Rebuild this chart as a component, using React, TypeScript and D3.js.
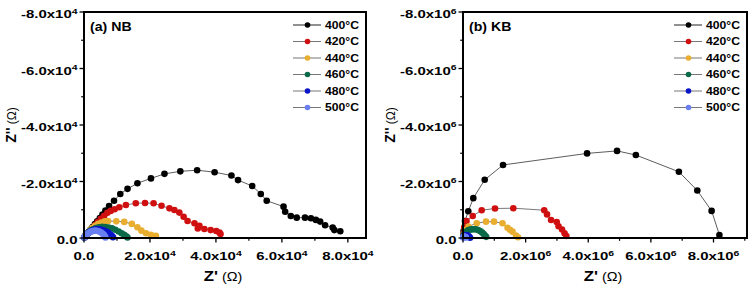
import React from "react";
import * as d3 from "d3";

// ---------- data ----------
const temps = ["400°C", "420°C", "440°C", "460°C", "480°C", "500°C"];
const colors = ["#000000", "#d01010", "#e9ae2f", "#0a6a48", "#0a14c8", "#6a80f2"];

// NB panel (Ω)
const nb400Re = [200, 500, 900, 1400, 2000, 2600, 3300, 4000, 4800, 5600, 6500, 7600, 9100, 11000, 13200, 16200, 20300, 24400, 29200, 34300, 39600, 44700, 46700, 51000, 53600, 55400, 60500, 61000, 62700, 64500, 67000, 68800, 70300, 71600, 73100, 75400, 75900, 77700];
const nb400Im = [-300, -750, -1350, -2100, -3000, -3900, -4900, -5900, -7100, -8300, -9700, -11300, -13200, -15600, -17400, -19400, -21100, -22700, -23600, -24000, -23300, -22100, -20500, -18400, -15600, -13200, -11100, -9300, -7800, -7200, -7200, -7000, -6400, -5800, -4500, -3700, -2800, -2400];
const nb420Re = [200, 500, 900, 1400, 2000, 2700, 3400, 4200, 5100, 6100, 7100, 8100, 9300, 10700, 12700, 15700, 18500, 21100, 23500, 25900, 27400, 28900, 30200, 31400, 33500, 35000, 34500, 36500, 38400, 40100, 41100, 41400];
const nb420Im = [-270, -680, -1220, -1900, -2700, -3650, -4600, -5650, -6800, -7900, -8900, -9600, -10200, -10900, -11700, -12300, -12400, -12300, -11400, -10500, -9900, -9000, -7500, -6000, -5200, -4300, -3400, -3200, -2800, -2500, -1900, -1400];
const nb440Re = [150, 400, 800, 1300, 1900, 2600, 3400, 4300, 5300, 6300, 7300, 9800, 12200, 14500, 16200, 17400, 18800, 20300, 21800];
const nb440Im = [-250, -650, -1250, -1950, -2800, -3600, -4300, -5000, -5500, -5900, -6000, -5900, -5700, -5000, -3800, -2600, -1700, -1100, -800];
const nb460Re = [100, 300, 600, 1000, 1500, 2100, 2800, 3600, 4500, 5500, 6500, 7500, 8500, 9500, 10500, 11400, 12200, 12800, 13200];
const nb460Im = [-200, -600, -1100, -1600, -2200, -2700, -3100, -3500, -3800, -3950, -3900, -3700, -3400, -2900, -2300, -1700, -1100, -600, -200];
const nb480Re = [100, 300, 600, 1000, 1500, 2100, 2800, 3500, 4300, 5100, 5900, 6700, 7400, 8000, 8500, 8800];
const nb480Im = [-200, -550, -1000, -1500, -2000, -2450, -2800, -3050, -3100, -3000, -2750, -2300, -1800, -1200, -700, -250];
const nb500Re = [100, 300, 600, 1000, 1500, 2100, 2700, 3300, 3900, 4500, 5100, 5600, 6000, 6300, 6500];
const nb500Im = [-200, -550, -950, -1400, -1850, -2250, -2500, -2600, -2550, -2350, -2000, -1600, -1100, -600, -200];

// KB panel (Ω)
const kb400Re = [20000, 64000, 169000, 329000, 693000, 1278000, 3962000, 4920000, 5521000, 6895000, 7483000, 7940000, 8189000];
const kb400Im = [-250000, -604000, -948000, -1410000, -2060000, -2586000, -2994000, -3083000, -2937000, -2344000, -1680000, -959000, -107000];
const kb420Re = [15000, 40000, 112000, 310000, 597000, 1022000, 1607000, 2594000, 2684000, 2812000, 2994000, 3051000, 3163000, 3243000, 3300000];
const kb420Im = [-150000, -380000, -604000, -781000, -984000, -1044000, -1055000, -984000, -835000, -639000, -568000, -416000, -302000, -167000, -71000];
const kb440Re = [20000, 64000, 176000, 438000, 735000, 990000, 1262000, 1422000, 1500000, 1582000, 1693000, 1757000];
const kb440Im = [-120000, -284000, -408000, -522000, -579000, -579000, -522000, -362000, -290000, -224000, -89000, -25000];
const kb460Re = [10000, 30000, 100000, 150000, 200000, 260000, 320000, 380000, 440000, 500000, 560000, 610000, 660000, 700000, 740000];
const kb460Im = [-50000, -120000, -220000, -260000, -290000, -305000, -310000, -308000, -300000, -275000, -240000, -195000, -140000, -90000, -40000];
const kb480Re = [10000, 30000, 50000, 75000, 100000, 125000, 150000, 175000, 200000, 225000];
const kb480Im = [-40000, -65000, -80000, -92000, -95000, -92000, -80000, -62000, -40000, -10000];
const kb500Re = [5000, 15000, 30000, 45000, 60000, 75000, 90000];
const kb500Im = [-20000, -32000, -40000, -42000, -40000, -32000, -20000];

const nbTicksX = [0, 20000, 40000, 60000, 80000];
const nbTicksY = [0, -20000, -40000, -60000, -80000];
const kbTicksX = [0, 2000000, 4000000, 6000000, 8000000];
const kbTicksY = [0, -2000000, -4000000, -6000000, -8000000];

const FONT = "'Liberation Sans', Arial, Helvetica, sans-serif";

function zip(re: number[], im: number[]) {
  return re.map((r, i) => ({ re: r, im: im[i] }));
}

function fmt(v: number, exp: number): [string, string | null] {
  if (v === 0) return ["0.0", null];
  return [(v / Math.pow(10, exp)).toFixed(1) + "x10", String(exp)];
}

type PanelProps = {
  x0: number; x1: number; yTop: number; yBot: number;
  xMax: number; yMin: number; exp: number; label: string;
  ticksX: number[]; ticksY: number[];
  series: { re: number; im: number }[][];
};

function Panel(p: PanelProps) {
  const x = d3.scaleLinear().domain([0, p.xMax]).range([p.x0, p.x1]);
  const y = d3.scaleLinear().domain([0, p.yMin]).range([p.yBot, p.yTop]);
  const step = p.ticksX[1] - p.ticksX[0];
  const minorX = d3.range(step / 2, p.xMax, step).filter((v) => !p.ticksX.includes(v));
  const stepY = p.ticksY[1] - p.ticksY[0];
  const minorY = d3.range(stepY / 2, p.yMin, stepY);
  const line = d3.line<{ re: number; im: number }>().x((d) => x(d.re)).y((d) => y(d.im));
  const cx = (p.x0 + p.x1) / 2;
  const sx = 1.3;
  return (
    <g fontFamily={FONT}>
      {/* series */}
      {p.series.map((s, i) => (
        <g key={i}>
          <path d={line(s) || ""} fill="none" stroke={i === 0 ? "#333" : "#555"} strokeWidth={0.8} />
          {s.map((d, j) => (
            <circle key={j} cx={x(d.re)} cy={y(d.im)} r={3.3} fill={colors[i]} />
          ))}
        </g>
      ))}
      {/* frame */}
      <rect x={p.x0} y={p.yTop} width={p.x1 - p.x0} height={p.yBot - p.yTop} fill="none" stroke="#000" strokeWidth={2} />
      {/* x ticks */}
      {p.ticksX.map((v) => (
        <line key={"xt" + v} x1={x(v)} x2={x(v)} y1={p.yBot} y2={p.yBot + 4.5} stroke="#000" strokeWidth={1.3} />
      ))}
      {minorX.map((v) => (
        <line key={"xm" + v} x1={x(v)} x2={x(v)} y1={p.yBot} y2={p.yBot + 2.8} stroke="#000" strokeWidth={1.2} />
      ))}
      {p.ticksX.map((v) => {
        const [m, s] = fmt(v, p.exp);
        return (
          <text key={"xl" + v} transform={`translate(${x(v)},${p.yBot + 22}) scale(${sx},1)`} textAnchor="middle" fontSize={11.5} fontWeight="bold">
            {m}
            {s && <tspan fontSize={8} dy={-4.5}>{s}</tspan>}
          </text>
        );
      })}
      {/* y ticks */}
      {p.ticksY.map((v) => (
        <line key={"yt" + v} x1={p.x0 - 4.5} x2={p.x0} y1={y(v)} y2={y(v)} stroke="#000" strokeWidth={1.3} />
      ))}
      {minorY.map((v) => (
        <line key={"ym" + v} x1={p.x0 - 2.8} x2={p.x0} y1={y(v)} y2={y(v)} stroke="#000" strokeWidth={1.2} />
      ))}
      {p.ticksY.map((v) => {
        const [m, s] = fmt(v, p.exp);
        return (
          <text key={"yl" + v} transform={`translate(${p.x0 - 6.5},${y(v) + 6})  scale(${sx},1)`} textAnchor="end" fontSize={11.5} fontWeight="bold">
            {m}
            {s && <tspan fontSize={8} dy={-4.5}>{s}</tspan>}
          </text>
        );
      })}
      {/* axis titles */}
      <text transform={`translate(${cx - 2},281) scale(1.2,1)`} textAnchor="middle">
        <tspan fontSize={14} fontWeight="bold">Z'</tspan>
        <tspan fontSize={12}> (Ω)</tspan>
      </text>
      <text transform={`translate(${p.x0 - 68},125) rotate(-90)`} textAnchor="middle">
        <tspan fontSize={14} fontWeight="bold">Z''</tspan>
        <tspan fontSize={12}> (Ω)</tspan>
      </text>
      {/* panel label */}
      <text transform={`translate(${p.x0 + 6},31) scale(1.18,1)`} fontSize={12} fontWeight="bold">{p.label}</text>
      {/* legend */}
      {temps.map((t, i) => {
        const ly = 25 + i * 16.5;
        return (
          <g key={t}>
            <line x1={p.x1 - 73} x2={p.x1 - 45} y1={ly} y2={ly} stroke={i === 0 ? "#222" : "#777"} strokeWidth={1} />
            <circle cx={p.x1 - 58.5} cy={ly} r={2.8} fill={colors[i]} />
            <text transform={`translate(${p.x1 - 41},${ly + 3.7}) scale(1.22,1)`} fontSize={10} fontWeight="bold">{t}</text>
          </g>
        );
      })}
    </g>
  );
}

export default function App() {
  const nbSeries = [zip(nb400Re, nb400Im), zip(nb420Re, nb420Im), zip(nb440Re, nb440Im), zip(nb460Re, nb460Im), zip(nb480Re, nb480Im), zip(nb500Re, nb500Im)];
  const kbSeries = [zip(kb400Re, kb400Im), zip(kb420Re, kb420Im), zip(kb440Re, kb440Im), zip(kb460Re, kb460Im), zip(kb480Re, kb480Im), zip(kb500Re, kb500Im)];
  return (
    <svg width={749} height={290} style={{ position: "absolute", left: 0, top: 0, background: "#fff" }}>
      <rect width={749} height={290} fill="#fff" />
      <Panel x0={84} x1={366} yTop={12} yBot={238} xMax={85500} yMin={-80000} exp={4} label="(a) NB"
        ticksX={nbTicksX} ticksY={nbTicksY} series={nbSeries} />
      <Panel x0={463} x1={747} yTop={12} yBot={238} xMax={9070000} yMin={-8000000} exp={6} label="(b) KB"
        ticksX={kbTicksX} ticksY={kbTicksY} series={kbSeries} />
    </svg>
  );
}
